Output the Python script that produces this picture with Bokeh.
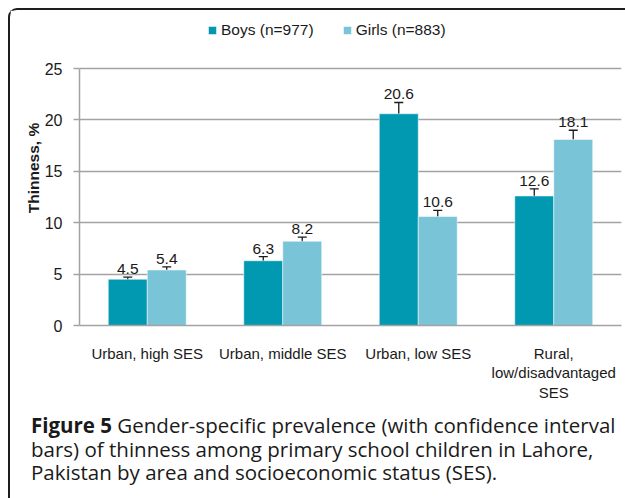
from bokeh.plotting import figure
from bokeh.models import (ColumnDataSource, FactorRange, Whisker, TeeHead, LabelSet,
                          Legend, LegendItem, Div, Range1d)
from bokeh.core.properties import value
from bokeh.layouts import column
from bokeh.transform import dodge
from bokeh.embed import file_html
from bokeh.resources import INLINE

categories = ["Urban, high SES", "Urban, middle SES", "Urban, low SES",
              "Rural,\nlow/disadvantaged\nSES"]
boys = [4.5, 6.3, 20.6, 12.6]
girls = [5.4, 8.2, 10.6, 18.1]
boys_lo = [4.3, 5.9, 19.6, 11.9]
boys_hi = [4.7, 6.7, 21.7, 13.3]
girls_lo = [5.1, 7.8, 10.0, 17.2]
girls_hi = [5.7, 8.6, 11.2, 19.0]
y_ticks = [0, 5, 10, 15, 20, 25]

boys_label = "Boys (n=977)"
girls_label = "Girls (n=883)"
y_title = "Thinness, %"
caption_bold = "Figure 5"
caption_lines = ["Gender-specific prevalence (with confidence interval",
                 "bars) of thinness among primary school children in Lahore,",
                 "Pakistan by area and socioeconomic status (SES)."]

BOYS_C = "#0099b1"
GIRLS_C = "#7ac4d8"
FONT = "Liberation Sans"
CAP_FONT = "Open Sans"
TXT = "#1a1a1a"
GRID = "#a3a3a3"

src = ColumnDataSource(dict(cat=categories, boys=boys, girls=girls,
                            boys_lo=boys_lo, boys_hi=boys_hi,
                            girls_lo=girls_lo, girls_hi=girls_hi,
                            boys_txt=[f"{v:.1f}" for v in boys],
                            girls_txt=[f"{v:.1f}" for v in girls]))

# frame spans the full canvas height above the x axis; the axis itself stops at 25
p = figure(x_range=FactorRange(*categories, range_padding=0), y_range=Range1d(0, 30.65),
           width=613, height=393, output_backend="svg", toolbar_location=None,
           min_border_left=69, min_border_right=2, min_border_top=0,
           min_border_bottom=73)

off = 0.1438
bw = 0.2876
rb = p.vbar(x=dodge("cat", -off, range=p.x_range), top="boys", width=bw, source=src,
            fill_color=BOYS_C, line_color="white", line_alpha=0.5, line_width=1)
rg = p.vbar(x=dodge("cat", off, range=p.x_range), top="girls", width=bw, source=src,
            fill_color=GIRLS_C, line_color="white", line_alpha=0.5, line_width=1)

for key, o in (("boys", -off), ("girls", off)):
    w = Whisker(base=dodge("cat", o, range=p.x_range), lower=f"{key}_lo",
                upper=f"{key}_hi", source=src, line_color=TXT, line_width=1.3,
                upper_head=TeeHead(size=9, line_color=TXT, line_width=1.3),
                lower_head=TeeHead(size=9, line_color=TXT, line_width=1.3))
    p.add_layout(w)
    ls = LabelSet(x=dodge("cat", o, range=p.x_range), y=f"{key}_hi", text=f"{key}_txt",
                  source=src, text_align="center", text_baseline="bottom", y_offset=3,
                  text_font=value(FONT), text_font_size=value("15.5px"), text_color=TXT)
    p.add_layout(ls)

legend = Legend(items=[LegendItem(label=boys_label, renderers=[rb]),
                       LegendItem(label=girls_label, renderers=[rg])],
                orientation="horizontal", location=(128, 285), padding=0, margin=0,
                border_line_color=None, background_fill_alpha=0,
                glyph_width=10, glyph_height=10, label_standoff=4, spacing=28,
                label_text_font=FONT, label_text_font_size="15.5px",
                label_text_color=TXT, label_height=20)
p.add_layout(legend, "center")

p.xgrid.grid_line_color = None
p.ygrid.grid_line_color = GRID
p.ygrid.grid_line_width = 1.5
p.ygrid.ticker = y_ticks
p.yaxis.ticker = y_ticks
p.yaxis.bounds = (0, 25)
p.outline_line_color = None

p.yaxis.axis_line_color = GRID
p.yaxis.axis_line_width = 1.5
p.yaxis.major_tick_line_color = GRID
p.yaxis.major_tick_line_width = 1.5
p.yaxis.major_tick_out = 6
p.yaxis.major_tick_in = 0
p.yaxis.minor_tick_line_color = None
p.yaxis.major_label_standoff = 11
p.yaxis.major_label_text_font = FONT
p.yaxis.major_label_text_font_size = "16px"
p.yaxis.major_label_text_color = TXT
p.yaxis.axis_label = y_title
p.yaxis.axis_label_text_font = FONT
p.yaxis.axis_label_text_font_size = "15.5px"
p.yaxis.axis_label_text_font_style = "bold"
p.yaxis.axis_label_text_color = TXT
p.yaxis.axis_label_standoff = 0

p.xaxis.axis_line_color = GRID
p.xaxis.axis_line_width = 1.5
p.xaxis.major_tick_line_color = None
p.xaxis.minor_tick_line_color = None
p.xaxis.major_label_standoff = 13
p.xaxis.major_label_text_font = FONT
p.xaxis.major_label_text_font_size = "15px"
p.xaxis.major_label_text_color = TXT
p.xaxis.major_label_text_line_height = 1.15

caption_html = f"<b>{caption_bold}</b> " + "<br>".join(caption_lines)
cap = Div(text=(f'<div style="font-family:\'{CAP_FONT}\';font-size:20.5px;line-height:23.5px;'
                f'color:{TXT};white-space:nowrap;padding:6px 0 0 16px;">'
                f'{caption_html}</div>'),
          width=613, height=88)

layout = column(p, cap, spacing=0, margin=(8, 0, 0, 8),
                styles={"border-top": "2px solid #1e1e1e", "border-left": "2px solid #1e1e1e",
                        "border-top-left-radius": "9px"})

open("out.html", "w").write(file_html(layout, INLINE))
